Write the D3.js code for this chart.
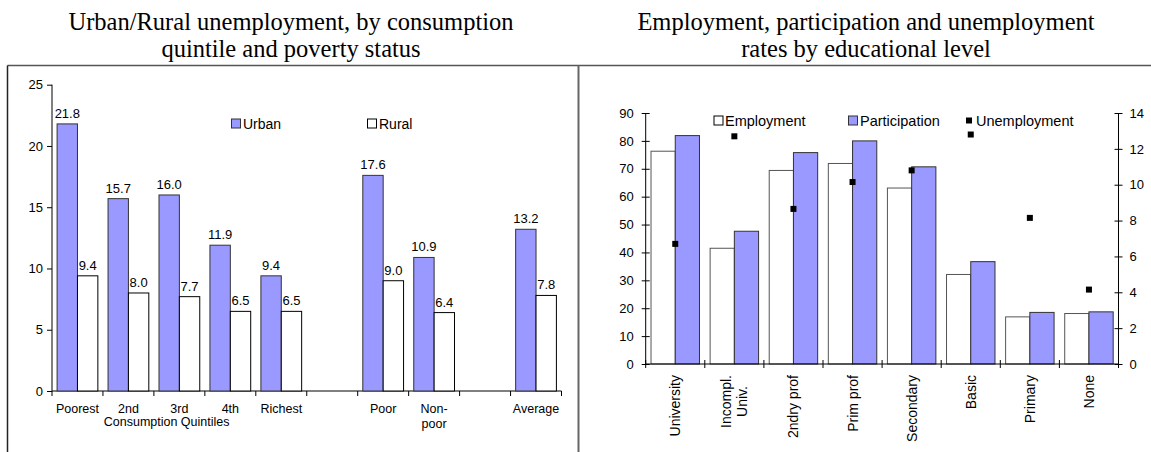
<!DOCTYPE html>
<html>
<head>
<meta charset="utf-8">
<script src="https://cdn.jsdelivr.net/npm/d3@7"></script>
<style>
  body { margin: 0; background: #fff; }
  text { font-family: "Liberation Sans", Arial, sans-serif; fill: #000; }
  .title { font-family: "Liberation Serif", "Times New Roman", serif; font-size: 24.5px; }
</style>
</head>
<body>
<svg width="1151" height="452"></svg>
<script>
// left chart data
var leftCats = ["Poorest", "2nd", "3rd", "4th", "Richest", "", "Poor", "Non-\npoor", "", "Average"];
var urban = [21.8, 15.7, 16.0, 11.9, 9.4, null, 17.6, 10.9, null, 13.2];
var rural = [9.4, 8.0, 7.7, 6.5, 6.5, null, 9.0, 6.4, null, 7.8];
var leftTicks = [0, 5, 10, 15, 20, 25];

// right chart data
var eduCats = ["University", "Incompl.\nUniv.", "2ndry prof", "Prim prof", "Secondary", "Basic", "Primary", "None"];
var employment = [76.3, 41.5, 69.4, 71.9, 63.1, 32.1, 16.9, 18.1];
var participation = [81.9, 47.6, 75.8, 80.0, 70.7, 36.7, 18.5, 18.7];
var unemployment = [6.7, 12.7, 8.65, 10.15, 10.8, 12.8, 8.15, 4.15];
var rightTicks = [0, 10, 20, 30, 40, 50, 60, 70, 80, 90];
var rightTicks2 = [0, 2, 4, 6, 8, 10, 12, 14];

var purple = "#9999ff";

var svg = d3.select("svg");
svg.append("rect").attr("width", 1151).attr("height", 452).attr("fill", "#fff");

// frames
svg.append("line").attr("x1", 7.5).attr("x2", 1151).attr("y1", 65.5).attr("y2", 65.5)
    .attr("stroke", "#555").attr("stroke-width", 1.5);
svg.append("line").attr("x1", 7.5).attr("x2", 7.5).attr("y1", 65.5).attr("y2", 452)
    .attr("stroke", "#222").attr("stroke-width", 1.5);
svg.append("line").attr("x1", 578.5).attr("x2", 578.5).attr("y1", 65.5).attr("y2", 452)
    .attr("stroke", "#666").attr("stroke-width", 2);

// titles
function title(lines, cx) {
  lines.forEach(function(t, i) {
    svg.append("text").attr("class", "title").attr("x", cx).attr("y", 29.5 + i * 27.5)
      .attr("text-anchor", "middle").text(t);
  });
}
title(["Urban/Rural unemployment, by consumption", "quintile and poverty status"], 291);
title(["Employment, participation and unemployment", "rates by educational level"], 866);

// ---------- left chart ----------
var xL = d3.scaleBand().domain(d3.range(leftCats.length)).range([52, 561.5]);
var yL = d3.scaleLinear().domain([0, 25]).range([391, 84.7]);
var bwL = xL.bandwidth();
var gL = svg.append("g");

var yAxisL = gL.append("g").attr("transform", "translate(52,0)")
    .call(d3.axisLeft(yL).tickValues(leftTicks).tickSize(5).tickPadding(4));
yAxisL.select(".domain").attr("d", "M0," + yL(25) + "V" + yL(0));

gL.append("line").attr("x1", 52).attr("x2", 561.5).attr("y1", yL(0)).attr("y2", yL(0)).attr("stroke", "#000");
gL.selectAll(".xt").data(d3.range(leftCats.length + 1)).enter().append("line")
    .attr("x1", function(d) { return 52 + d * bwL; }).attr("x2", function(d) { return 52 + d * bwL; })
    .attr("y1", yL(0)).attr("y2", yL(0) + 5).attr("stroke", "#000");

function barsL(vals, off, fill, stroke) {
  var idx = d3.range(vals.length).filter(function(i) { return vals[i] != null; });
  gL.selectAll(null).data(idx).enter().append("rect")
    .attr("x", function(i) { return xL(i) + bwL * off; })
    .attr("width", bwL * 0.4)
    .attr("y", function(i) { return yL(vals[i]); })
    .attr("height", function(i) { return yL(0) - yL(vals[i]); })
    .attr("fill", fill).attr("stroke", stroke).attr("stroke-width", 1);
  gL.selectAll(null).data(idx).enter().append("text")
    .attr("x", function(i) { return xL(i) + bwL * (off + 0.2); })
    .attr("y", function(i) { return yL(vals[i]) - 6; })
    .attr("text-anchor", "middle").attr("font-size", 13)
    .text(function(i) { return vals[i].toFixed(1); });
}
barsL(urban, 0.1, purple, "#333");
barsL(rural, 0.5, "#fff", "#000");

leftCats.forEach(function(c, i) {
  c.split("\n").forEach(function(line, j) {
    gL.append("text").attr("x", xL(i) + bwL / 2).attr("y", 413 + j * 14.5)
      .attr("text-anchor", "middle").attr("font-size", 12.5).text(line);
  });
});
gL.append("text").attr("x", xL(2) + bwL * 0.25).attr("y", 425.5)
  .attr("text-anchor", "middle").attr("font-size", 12.5).text("Consumption Quintiles");

// legend left
gL.append("rect").attr("x", 231.5).attr("y", 119).attr("width", 9).attr("height", 9)
  .attr("fill", purple).attr("stroke", "#333");
gL.append("text").attr("x", 243).attr("y", 128.5).attr("font-size", 14).text("Urban");
gL.append("rect").attr("x", 367.5).attr("y", 119).attr("width", 9).attr("height", 9)
  .attr("fill", "#fff").attr("stroke", "#000");
gL.append("text").attr("x", 379).attr("y", 128.5).attr("font-size", 14).text("Rural");

// ---------- right chart ----------
var xR = d3.scaleBand().domain(d3.range(eduCats.length)).range([645.7, 1118.5]);
var yR = d3.scaleLinear().domain([0, 90]).range([364, 113]);
var yR2 = d3.scaleLinear().domain([0, 14]).range([364, 113]);
var bwR = xR.bandwidth();
var gR = svg.append("g");

var ax1 = gR.append("g").attr("transform", "translate(645.7,0)")
    .call(d3.axisLeft(yR).tickValues(rightTicks).tickSize(4).tickPadding(8));
ax1.selectAll(".tick line").attr("x2", 4).attr("x1", -4);
var ax2 = gR.append("g").attr("transform", "translate(1118.5,0)")
    .call(d3.axisRight(yR2).tickValues(rightTicks2).tickSize(4).tickPadding(7));
ax2.selectAll(".tick line").attr("x2", 4).attr("x1", -4);
[ax1, ax2].forEach(function(a) {
  a.select(".domain").attr("d", "M0," + yR(90) + "V" + yR(0));
});

function barsR(vals, off, fill, stroke) {
  gR.selectAll(null).data(d3.range(vals.length)).enter().append("rect")
    .attr("x", function(i) { return xR(i) + bwR * off; })
    .attr("width", bwR * 0.41)
    .attr("y", function(i) { return yR(vals[i]); })
    .attr("height", function(i) { return yR(0) - yR(vals[i]); })
    .attr("fill", fill).attr("stroke", stroke).attr("stroke-width", 1);
}
barsR(employment, 0.09, "#fff", "#555");
barsR(participation, 0.5, purple, "#333");

gR.append("line").attr("x1", 645.7).attr("x2", 1118.5).attr("y1", yR(0)).attr("y2", yR(0)).attr("stroke", "#000");
gR.selectAll(".xt").data(d3.range(eduCats.length + 1)).enter().append("line")
    .attr("x1", function(d) { return 645.7 + d * bwR; }).attr("x2", function(d) { return 645.7 + d * bwR; })
    .attr("y1", yR(0) - 4).attr("y2", yR(0) + 4).attr("stroke", "#000");

gR.selectAll(null).data(d3.range(unemployment.length)).enter().append("rect")
  .attr("x", function(i) { return xR(i) + bwR / 2 - 3; })
  .attr("y", function(i) { return yR2(unemployment[i]) - 3; })
  .attr("width", 6).attr("height", 6).attr("fill", "#000");

eduCats.forEach(function(c, i) {
  var lines = c.split("\n");
  var cx = xR(i) + bwR / 2;
  var g = gR.append("g").attr("transform", "translate(" + cx + ",375) rotate(-90)");
  var n = lines.length;
  var first = g.append("text").attr("x", 0).attr("y", (0 - (n - 1) * 8) + 5)
    .attr("text-anchor", "end").attr("font-size", 14).text(lines[0]);
  var w = first.node().getComputedTextLength();
  for (var j = 1; j < n; j++) {
    g.append("text").attr("x", -w / 2).attr("y", (j * 16 - (n - 1) * 8) + 5)
      .attr("text-anchor", "middle").attr("font-size", 14).text(lines[j]);
  }
});

// legend right
gR.append("rect").attr("x", 714).attr("y", 116).attr("width", 9).attr("height", 9)
  .attr("fill", "#fff").attr("stroke", "#000");
gR.append("text").attr("x", 725).attr("y", 125.5).attr("font-size", 14.5).text("Employment");
gR.append("rect").attr("x", 848.5).attr("y", 116).attr("width", 9).attr("height", 9)
  .attr("fill", purple).attr("stroke", "#333");
gR.append("text").attr("x", 860).attr("y", 125.5).attr("font-size", 14.5).text("Participation");
gR.append("rect").attr("x", 966).attr("y", 117.5).attr("width", 6).attr("height", 6).attr("fill", "#000");
gR.append("text").attr("x", 976).attr("y", 125.5).attr("font-size", 14.5).text("Unemployment");

svg.selectAll(".tick text").attr("font-size", 13).attr("fill", "#000").style("font-family", "Liberation Sans, Arial, sans-serif");
svg.selectAll(".domain, .tick line").attr("stroke", "#000");
</script>
</body>
</html>
